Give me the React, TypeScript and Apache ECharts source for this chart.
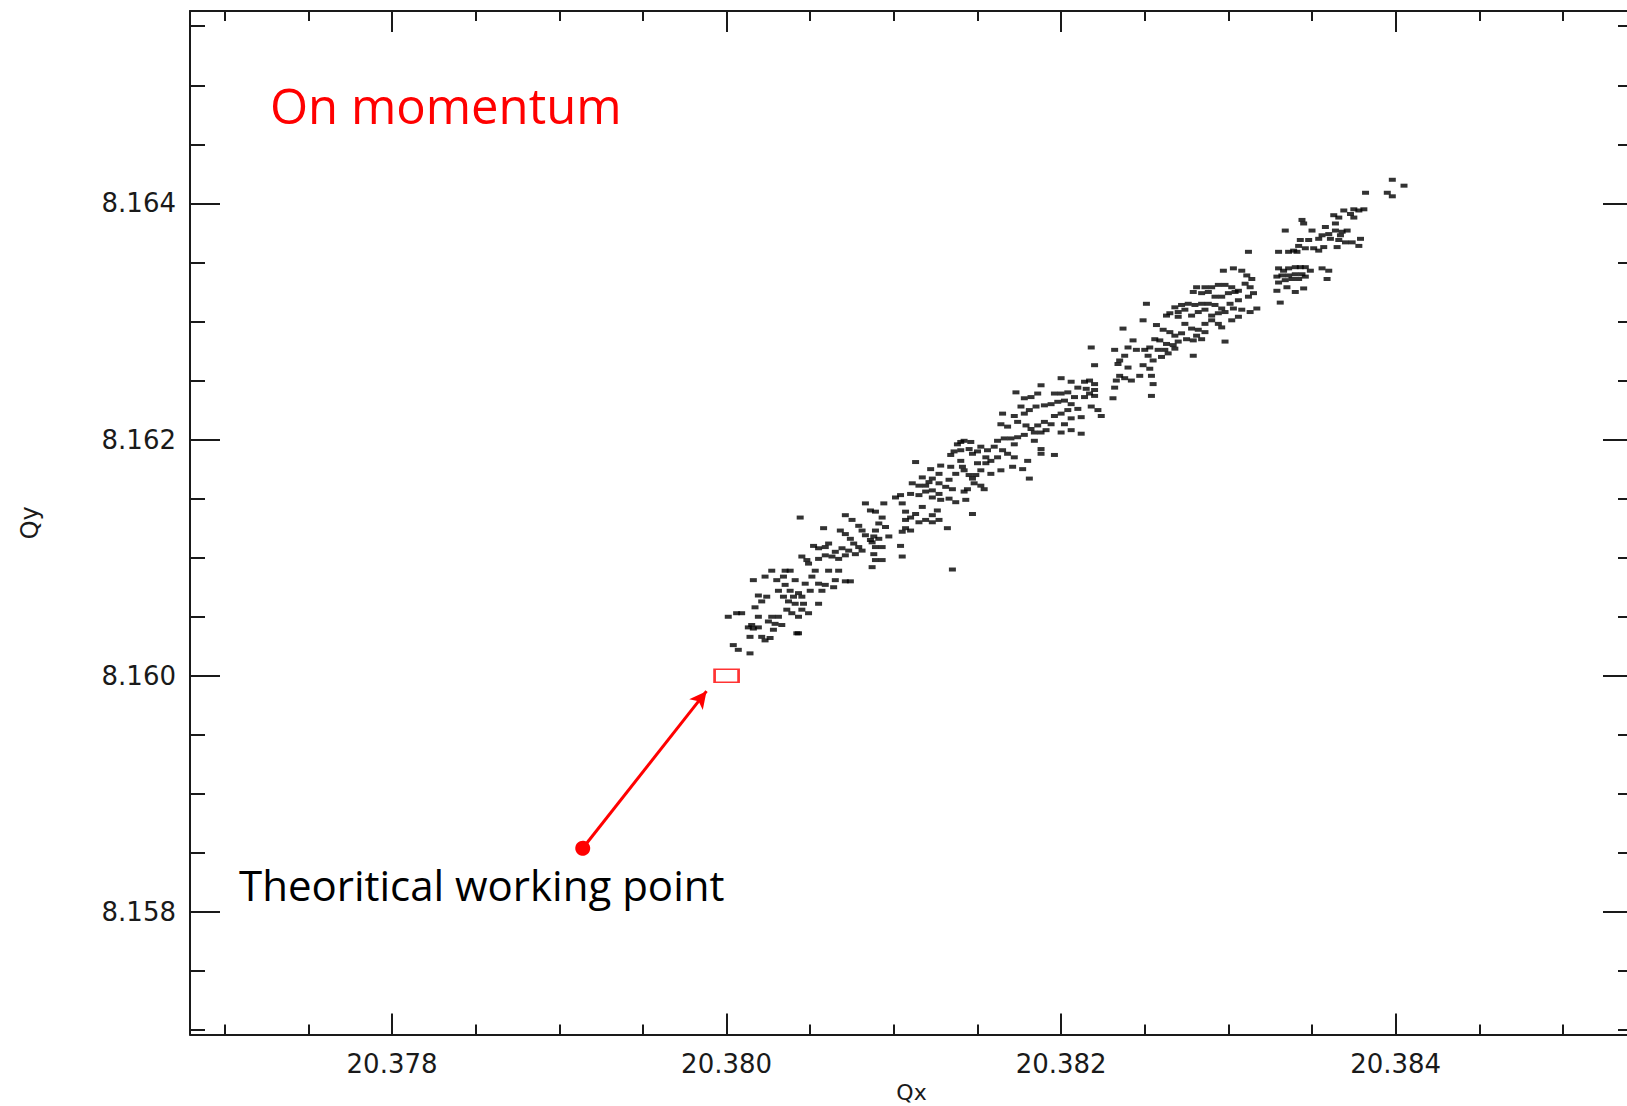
import React, { useEffect, useRef } from "react";
import * as echarts from "echarts";

// Visible tune window (Qx horizontally, Qy vertically)
const QX_RANGE = [20.376792, 20.385419];
const QY_RANGE = [8.156963, 8.165629];

// Labelled (major) and unlabelled (minor) tick positions
const QX_MAJOR = [20.378, 20.38, 20.382, 20.384];
const QX_MINOR = [
  20.377, 20.3775, 20.3785, 20.379, 20.3795, 20.3805, 20.381, 20.3815,
  20.3825, 20.383, 20.3835, 20.3845, 20.385,
];
const QY_MAJOR = [8.158, 8.16, 8.162, 8.164];
const QY_MINOR = [
  8.157, 8.1575, 8.1585, 8.159, 8.1595, 8.1605, 8.161, 8.1615, 8.1625, 8.163,
  8.1635, 8.1645, 8.165, 8.1655,
];

// Theoretical working point and the arrow pointing at it
const WORKING_POINT: [number, number] = [20.38, 8.16];
const ARROW_TAIL: [number, number] = [20.37914, 8.15854];
const ARROW_HEAD: [number, number] = [20.37988, 8.15987];

// Measured tunes, lower end of the footprint
const TUNES_LOW: [number, number][] = [
  [20.38014, 8.16019], [20.38007, 8.16022], [20.38004, 8.16026], [20.38001, 8.1605], [20.38006, 8.16053],
  [20.38009, 8.16053], [20.38015, 8.16043], [20.38013, 8.16041], [20.38016, 8.1604], [20.38019, 8.16041],
  [20.38021, 8.16033], [20.38023, 8.1603], [20.38026, 8.16032], [20.38028, 8.16039], [20.38029, 8.16044],
  [20.38031, 8.1605], [20.38033, 8.16043], [20.38027, 8.1605], [20.38019, 8.1605], [20.38017, 8.16058],
  [20.38021, 8.16063], [20.38024, 8.16067], [20.38019, 8.16068], [20.38016, 8.16081], [20.38023, 8.16084],
  [20.38027, 8.16089], [20.3803, 8.16081], [20.38034, 8.16084], [20.38035, 8.16077], [20.38038, 8.16089],
  [20.38041, 8.16081], [20.38043, 8.1607], [20.3804, 8.16067], [20.38037, 8.16063], [20.38036, 8.16056],
  [20.38039, 8.16053], [20.38043, 8.1605], [20.38045, 8.16056], [20.38049, 8.16053], [20.38042, 8.16036],
  [20.38046, 8.16061], [20.3805, 8.16072], [20.38047, 8.16078], [20.38051, 8.16084], [20.38055, 8.16078],
  [20.38057, 8.16072], [20.38059, 8.16077], [20.38064, 8.16075], [20.38065, 8.16081], [20.38071, 8.1608],
  [20.38074, 8.1608], [20.38055, 8.16061], [20.38053, 8.16089], [20.38049, 8.16095], [20.38045, 8.16101],
  [20.38048, 8.16098], [20.38055, 8.16099], [20.38059, 8.16102], [20.38063, 8.16101], [20.38065, 8.16105],
  [20.38067, 8.16099], [20.38071, 8.16102], [20.38069, 8.16108], [20.38073, 8.16106], [20.38077, 8.16103],
  [20.38079, 8.16109], [20.38081, 8.16106], [20.38076, 8.16112], [20.38074, 8.16116], [20.38071, 8.1612],
  [20.38068, 8.16123], [20.38061, 8.16112], [20.38055, 8.16108], [20.38052, 8.1611], [20.38058, 8.16125],
  [20.38071, 8.16136], [20.38075, 8.16132], [20.38079, 8.16127], [20.38081, 8.16123], [20.38083, 8.16119],
  [20.38086, 8.16115], [20.38088, 8.16118], [20.38089, 8.16123], [20.38091, 8.16129], [20.38093, 8.16134],
  [20.38094, 8.16146], [20.38083, 8.16146], [20.38086, 8.1614], [20.38089, 8.16139], [20.38095, 8.16126],
  [20.38097, 8.16118], [20.38093, 8.16109], [20.38088, 8.16103], [20.38089, 8.16098], [20.38087, 8.16092],
  [20.38093, 8.16098], [20.38105, 8.16101], [20.38104, 8.1611], [20.38105, 8.16122], [20.38107, 8.16125],
  [20.3811, 8.16123], [20.38107, 8.16132], [20.3811, 8.16134], [20.38113, 8.16137], [20.38115, 8.1613],
  [20.38119, 8.16132], [20.38123, 8.1613], [20.38127, 8.16132], [20.38132, 8.16125], [20.38126, 8.1614],
  [20.38123, 8.16136], [20.38117, 8.16143], [20.38107, 8.16139], [20.38105, 8.16146], [20.38101, 8.16151],
  [20.38104, 8.16153], [20.3811, 8.16154], [20.38115, 8.16153], [20.38119, 8.16156], [20.38123, 8.16157],
  [20.38127, 8.16154], [20.38128, 8.16149], [20.38133, 8.1615], [20.38137, 8.16147], [20.38135, 8.16158],
  [20.38131, 8.1616], [20.38127, 8.16163], [20.38121, 8.16164], [20.38123, 8.16167], [20.38117, 8.16168],
  [20.38111, 8.16163], [20.38115, 8.16161], [20.38119, 8.16161], [20.38133, 8.16166], [20.38137, 8.16171],
  [20.38127, 8.16171], [20.38044, 8.16134], [20.38043, 8.16036], [20.38135, 8.1609], [20.38038, 8.16072],
  [20.38041, 8.16061], [20.38045, 8.16067], [20.38034, 8.16067], [20.38031, 8.16072], [20.38061, 8.16089],
  [20.38067, 8.16089], [20.38087, 8.16113], [20.38091, 8.16116], [20.38089, 8.16109], [20.38123, 8.16151],
  [20.38014, 8.16033], [20.38025, 8.16046], [20.38035, 8.16089], [20.38059, 8.16109],
];

// Measured tunes, central part
const TUNES_MID: [number, number][] = [
  [20.3822, 8.16263], [20.38234, 8.16264], [20.3824, 8.16261], [20.38235, 8.16254], [20.38238, 8.16252],
  [20.38242, 8.1625], [20.38232, 8.16244], [20.38233, 8.1625], [20.38214, 8.16249], [20.38217, 8.1625],
  [20.3822, 8.16247], [20.38215, 8.16243], [20.3822, 8.16242], [20.38217, 8.16239], [20.3822, 8.16237],
  [20.38214, 8.16236], [20.382, 8.16252], [20.38206, 8.16249], [20.3821, 8.16244], [20.38204, 8.1624],
  [20.382, 8.16239], [20.38196, 8.16239], [20.38208, 8.16236], [20.38202, 8.16233], [20.38198, 8.16232],
  [20.38194, 8.1623], [20.38188, 8.16246], [20.38186, 8.16239], [20.38182, 8.16236], [20.38178, 8.16235],
  [20.38173, 8.1624], [20.3819, 8.16229], [20.38185, 8.16228], [20.38181, 8.16225], [20.38176, 8.16228],
  [20.38178, 8.16222], [20.38172, 8.1622], [20.38165, 8.16222], [20.38164, 8.16213], [20.38168, 8.16211],
  [20.38174, 8.16215], [20.38179, 8.16212], [20.38182, 8.16209], [20.38186, 8.16212], [20.3819, 8.16215],
  [20.38194, 8.16213], [20.38191, 8.16208], [20.38188, 8.16206], [20.38184, 8.16206], [20.38196, 8.1622],
  [20.382, 8.16222], [20.38204, 8.16225], [20.38206, 8.1623], [20.3821, 8.16226], [20.38212, 8.16219],
  [20.38206, 8.16218], [20.38202, 8.16213], [20.38206, 8.16208], [20.38212, 8.16205], [20.382, 8.16206],
  [20.38222, 8.16225], [20.38218, 8.16228], [20.38224, 8.1622], [20.38231, 8.16235], [20.38162, 8.16199],
  [20.38166, 8.16201], [20.3816, 8.16194], [20.38156, 8.16191], [20.38152, 8.16194], [20.3815, 8.1619],
  [20.38146, 8.16198], [20.38142, 8.16199], [20.3814, 8.16198], [20.38145, 8.16192], [20.38147, 8.16188],
  [20.38155, 8.16185], [20.38158, 8.16182], [20.38162, 8.16185], [20.38168, 8.16188], [20.38172, 8.16185],
  [20.38165, 8.16191], [20.3817, 8.16201], [20.38172, 8.16196], [20.38174, 8.16202], [20.38178, 8.16204],
  [20.38184, 8.16199], [20.38188, 8.16192], [20.38188, 8.16188], [20.38196, 8.16187], [20.3818, 8.16182],
  [20.38164, 8.16174], [20.38171, 8.16177], [20.38177, 8.16175], [20.38181, 8.16167], [20.3815, 8.1618],
  [20.38155, 8.1618], [20.38158, 8.16171], [20.38152, 8.16174], [20.38149, 8.1617], [20.38147, 8.16167],
  [20.38145, 8.1617], [20.38142, 8.16174], [20.38141, 8.16177], [20.38148, 8.16163], [20.38152, 8.16161],
  [20.38154, 8.16158], [20.38144, 8.16158], [20.38142, 8.16156], [20.38143, 8.16149], [20.38147, 8.16137],
  [20.3814, 8.16182], [20.38136, 8.1619], [20.38134, 8.16187], [20.38138, 8.16196], [20.3814, 8.16191],
  [20.38113, 8.16181], [20.38122, 8.16175], [20.38134, 8.16177], [20.38128, 8.16178],
];

// Measured tunes, upper part
const TUNES_HIGH: [number, number][] = [
  [20.38312, 8.16359], [20.38297, 8.16343], [20.38303, 8.16345], [20.38308, 8.16343], [20.38311, 8.16339],
  [20.38314, 8.16336], [20.3831, 8.16332], [20.38313, 8.16329], [20.38315, 8.16324], [20.38312, 8.16321],
  [20.38306, 8.16326], [20.38302, 8.16329], [20.38298, 8.16331], [20.38294, 8.16331], [20.3829, 8.16329],
  [20.38286, 8.16329], [20.38281, 8.16329], [20.38279, 8.16325], [20.38284, 8.16324], [20.38288, 8.16325],
  [20.38292, 8.16321], [20.38296, 8.16321], [20.383, 8.16324], [20.38304, 8.16325], [20.38306, 8.16318],
  [20.38301, 8.16315], [20.38296, 8.16311], [20.38292, 8.16314], [20.38288, 8.16315], [20.38284, 8.16315],
  [20.3828, 8.16314], [20.38276, 8.16315], [20.38272, 8.16314], [20.38268, 8.16312], [20.3827, 8.16308],
  [20.38274, 8.1631], [20.38278, 8.16305], [20.38282, 8.16308], [20.38286, 8.1631], [20.3829, 8.16305],
  [20.38294, 8.16307], [20.38298, 8.16308], [20.38303, 8.16311], [20.38308, 8.1631], [20.38313, 8.16308],
  [20.38317, 8.16311], [20.38306, 8.16304], [20.38302, 8.16301], [20.38296, 8.16295], [20.38294, 8.16298],
  [20.3829, 8.16301], [20.38286, 8.16298], [20.38282, 8.16293], [20.38278, 8.16294], [20.38274, 8.16298],
  [20.3827, 8.16304], [20.38265, 8.16307], [20.38263, 8.16305], [20.38251, 8.16315], [20.38249, 8.16301],
  [20.38257, 8.16297], [20.38261, 8.16293], [20.38265, 8.16291], [20.38268, 8.16288], [20.38272, 8.1629],
  [20.38275, 8.16285], [20.38279, 8.16284], [20.38284, 8.16285], [20.38286, 8.16291], [20.38281, 8.16288],
  [20.3827, 8.16283], [20.38267, 8.1628], [20.38263, 8.16281], [20.38259, 8.16284], [20.38256, 8.16285],
  [20.38253, 8.16278], [20.3825, 8.16276], [20.38252, 8.16271], [20.38255, 8.16267], [20.3826, 8.1627],
  [20.38264, 8.16273], [20.38268, 8.16277], [20.38262, 8.16276], [20.38258, 8.16276], [20.38279, 8.16271],
  [20.38298, 8.16283], [20.38237, 8.16294], [20.38243, 8.16284], [20.3824, 8.16278], [20.38245, 8.16276],
  [20.38238, 8.16271], [20.38235, 8.16267], [20.38232, 8.16276], [20.38218, 8.16278], [20.38249, 8.16263],
  [20.38253, 8.1626], [20.38247, 8.16254], [20.38254, 8.16254], [20.38255, 8.16247], [20.38254, 8.16237],
];

// Measured tunes, top end of the footprint
const TUNES_TOP: [number, number][] = [
  [20.38398, 8.1642], [20.38405, 8.16415], [20.38382, 8.16409], [20.38395, 8.16409], [20.38398, 8.16406],
  [20.38375, 8.16395], [20.38381, 8.16395], [20.38378, 8.16394], [20.38369, 8.16394], [20.38373, 8.16391],
  [20.38363, 8.1639], [20.38366, 8.16388], [20.38375, 8.16388], [20.38344, 8.16386], [20.38345, 8.16383],
  [20.38364, 8.16383], [20.38358, 8.1638], [20.3835, 8.16377], [20.38334, 8.16377], [20.38364, 8.16377],
  [20.38368, 8.16376], [20.38371, 8.16377], [20.38367, 8.16373], [20.3836, 8.16374], [20.38356, 8.16373],
  [20.38354, 8.1637], [20.38348, 8.16369], [20.38343, 8.16369], [20.38361, 8.1637], [20.38366, 8.16369],
  [20.3837, 8.16367], [20.38374, 8.16367], [20.38379, 8.1637], [20.38378, 8.16364], [20.38365, 8.16363],
  [20.38357, 8.16363], [20.38354, 8.1636], [20.38351, 8.16362], [20.38346, 8.16362], [20.38342, 8.16364],
  [20.38339, 8.1636], [20.38336, 8.16359], [20.3833, 8.16359], [20.38341, 8.16359], [20.3833, 8.16345],
  [20.38333, 8.16343], [20.38336, 8.16345], [20.3834, 8.16346], [20.38343, 8.16346], [20.38346, 8.16346],
  [20.38349, 8.16343], [20.38344, 8.1634], [20.3834, 8.1634], [20.38336, 8.16339], [20.38332, 8.16339],
  [20.38329, 8.16338], [20.3833, 8.16333], [20.38334, 8.16335], [20.38338, 8.16336], [20.38342, 8.16336],
  [20.38346, 8.16338], [20.38356, 8.16345], [20.3836, 8.16343], [20.38359, 8.16336], [20.38329, 8.16326],
  [20.38335, 8.16329], [20.3834, 8.16325], [20.38345, 8.16328], [20.38331, 8.16316],
];

const INK = "#1a1a1a";
const RED = "#ff0000";
const TICK_FONT = "DejaVu Sans";
const NOTE_FONT = "Open Sans";

// Plot frame; its right edge runs just past the page edge
const GRID_BOX = { left: 190, top: 11, width: 1443, height: 1023.5, containLabel: false, outerBoundsMode: "none" };

function frameX(gridIndex: number, position: "top" | "bottom", ticks: number[], length: number, labelled: boolean) {
  return {
    type: "value",
    gridIndex,
    position,
    min: QX_RANGE[0],
    max: QX_RANGE[1],
    axisLine: { show: gridIndex === 0, lineStyle: { color: INK, width: 2 } },
    axisTick: { show: true, inside: true, length, customValues: ticks, lineStyle: { color: INK, width: 2 } },
    axisLabel: {
      show: labelled,
      customValues: ticks,
      formatter: (v: number) => v.toFixed(3),
      fontFamily: TICK_FONT,
      fontSize: 26,
      color: INK,
      margin: 16,
    },
    splitLine: { show: false },
    ...(labelled
      ? {
          name: "Qx",
          nameLocation: "middle",
          nameGap: 44,
          nameTextStyle: { fontFamily: TICK_FONT, fontSize: 22, color: INK },
        }
      : {}),
  };
}

function frameY(gridIndex: number, position: "left" | "right", ticks: number[], length: number, labelled: boolean) {
  return {
    type: "value",
    gridIndex,
    position,
    min: QY_RANGE[0],
    max: QY_RANGE[1],
    axisLine: { show: gridIndex === 0, lineStyle: { color: INK, width: 2 } },
    axisTick: { show: true, inside: true, length, customValues: ticks, lineStyle: { color: INK, width: 2 } },
    axisLabel: {
      show: labelled,
      customValues: ticks,
      formatter: (v: number) => v.toFixed(3),
      fontFamily: TICK_FONT,
      fontSize: 26,
      color: INK,
      margin: 14,
    },
    splitLine: { show: false },
    ...(labelled
      ? {
          name: "Qy",
          nameLocation: "middle",
          nameRotate: 90,
          nameGap: 148,
          nameTextStyle: { fontFamily: TICK_FONT, fontSize: 24, color: INK },
        }
      : {}),
  };
}

export default function App() {
  const ref = useRef<HTMLDivElement>(null);

  useEffect(() => {
    if (!ref.current) return;
    const chart = echarts.init(ref.current, null, { renderer: "svg" });
    const tunes = [...TUNES_LOW, ...TUNES_MID, ...TUNES_HIGH, ...TUNES_TOP];

    chart.setOption({
      animation: false,
      backgroundColor: "#ffffff",
      grid: [{ ...GRID_BOX }, { ...GRID_BOX }],
      xAxis: [
        frameX(0, "bottom", QX_MAJOR, 21, true),
        frameX(0, "top", QX_MAJOR, 21, false),
        frameX(1, "bottom", QX_MINOR, 10, false),
        frameX(1, "top", QX_MINOR, 10, false),
      ],
      yAxis: [
        frameY(0, "left", QY_MAJOR, 30, true),
        frameY(0, "right", QY_MAJOR, 30, false),
        frameY(1, "left", QY_MINOR, 15, false),
        frameY(1, "right", QY_MINOR, 15, false),
      ],
      series: [
        {
          name: "Tunes",
          type: "scatter",
          xAxisIndex: 0,
          yAxisIndex: 0,
          data: tunes,
          symbol: "rect",
          symbolSize: [7, 4],
          itemStyle: { color: "#000000" },
          silent: true,
        },
        {
          name: "Theoritical working point",
          type: "scatter",
          xAxisIndex: 0,
          yAxisIndex: 0,
          data: [WORKING_POINT],
          symbol: "rect",
          symbolSize: [24, 13],
          itemStyle: { color: "rgba(0,0,0,0)", borderColor: RED, borderWidth: 2 },
          silent: true,
          markLine: {
            silent: true,
            animation: false,
            label: { show: false },
            lineStyle: { color: RED, width: 3, type: "solid" },
            data: [
              [
                { coord: ARROW_TAIL, symbol: "circle", symbolSize: 15 },
                { coord: ARROW_HEAD, symbol: "arrow", symbolSize: [13, 17] },
              ],
            ],
          },
        },
      ],
      graphic: [
        {
          type: "text",
          x: 270,
          y: 105,
          silent: true,
          style: {
            text: "On momentum",
            fill: RED,
            font: `49px "${NOTE_FONT}"`,
            textVerticalAlign: "middle",
          },
        },
        {
          type: "text",
          x: 239,
          y: 884,
          silent: true,
          style: {
            text: "Theoritical working point",
            fill: "#000000",
            font: `42px "${NOTE_FONT}"`,
            textVerticalAlign: "middle",
          },
        },
      ],
    });

    return () => chart.dispose();
  }, []);

  return (
    <div
      ref={ref}
      style={{ position: "fixed", left: 0, top: 0, width: 1627, height: 1106, background: "#ffffff" }}
    />
  );
}
